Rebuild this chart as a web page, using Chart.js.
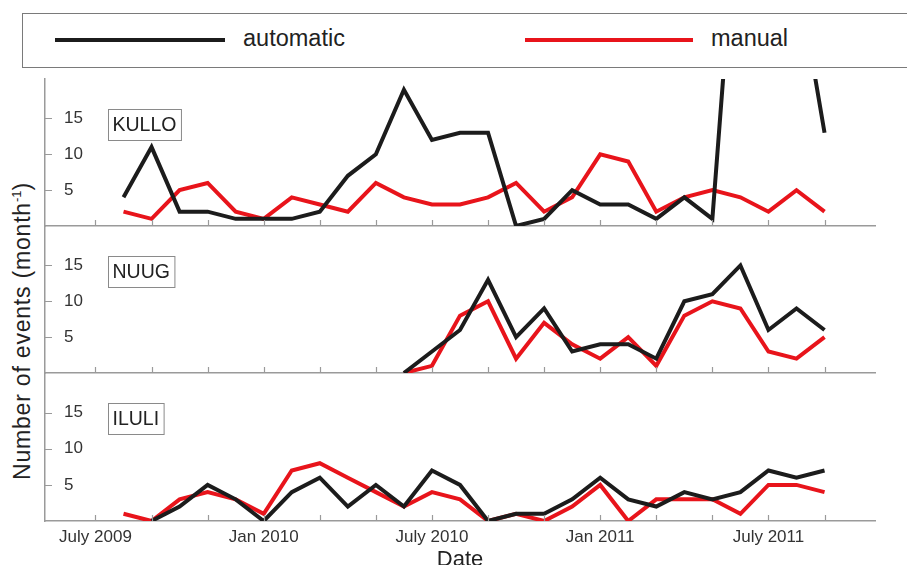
<!DOCTYPE html>
<html lang="en">
<head>
<meta charset="UTF-8">
<title>Automatic vs manual events per month</title>
<script src="https://cdn.jsdelivr.net/npm/chart.js"></script>
<style>
  body { margin: 0; background: #fff; font-family: "Liberation Sans", Arial, sans-serif; color: #222; }
  .wrap { position: relative; width: 907px; height: 565px; overflow: hidden; }
  .wrap canvas { position: absolute; left: 0; }
  .legend { position: absolute; left: 22px; top: 13px; width: 900px; height: 53px; border: 1.5px solid #7a7a7a; border-right: none; }
  .key { position: absolute; height: 4px; top: 24px; }
  .key-text { position: absolute; top: 10px; font-size: 23.5px; line-height: 28px; }
  .ytitle { position: absolute; left: 22px; top: 331px; transform: translate(-50%, -50%) rotate(-90deg);
            white-space: nowrap; font-size: 23px; letter-spacing: 0.8px; }
  .ytitle sup { font-size: 13px; letter-spacing: 0; }
</style>
</head>
<body>
<div class="wrap">
  <div class="legend">
    <div class="key" style="left:32px; width:170px; background:#1c1c1c"></div>
    <div class="key-text" style="left:220px">automatic</div>
    <div class="key" style="left:502px; width:168px; background:#e8141b"></div>
    <div class="key-text" style="left:688px">manual</div>
  </div>
  <div class="ytitle">Number of events (month<sup>-1</sup>)</div>
  <canvas id="kullo" width="907" height="160" style="top:70px"></canvas>
  <canvas id="nuug" width="907" height="160" style="top:220px"></canvas>
  <canvas id="iluli" width="907" height="198" style="top:367px"></canvas>
</div>

<script>
// months Aug 2009 .. Sep 2011
const months = ['2009-08','2009-09','2009-10','2009-11','2009-12',
                '2010-01','2010-02','2010-03','2010-04','2010-05','2010-06','2010-07','2010-08','2010-09','2010-10','2010-11','2010-12',
                '2011-01','2011-02','2011-03','2011-04','2011-05','2011-06','2011-07','2011-08','2011-09'];

// KULLO automatic goes off the top in summer 2011
const kulloAuto   = [4, 11, 2, 2, 1, 1, 1, 2, 7, 10, 19, 12, 13, 13, 0, 1, 5, 3, 3, 1, 4, 1, 52, 45, 36, 13];
const kulloManual = [2, 1, 5, 6, 2, 1, 4, 3, 2, 6, 4, 3, 3, 4, 6, 2, 4, 10, 9, 2, 4, 5, 4, 2, 5, 2];

const nuugAuto   = [null, null, null, null, null, null, null, null, null, null, 0, 3, 6, 13, 5, 9, 3, 4, 4, 2, 10, 11, 15, 6, 9, 6];
const nuugManual = [null, null, null, null, null, null, null, null, null, null, 0, 1, 8, 10, 2, 7, 4, 2, 5, 1, 8, 10, 9, 3, 2, 5];

const iluliAuto   = [null, 0, 2, 5, 3, 0, 4, 6, 2, 5, 2, 7, 5, 0, 1, 1, 3, 6, 3, 2, 4, 3, 4, 7, 6, 7];
const iluliManual = [1, 0, 3, 4, 3, 1, 7, 8, 6, 4, 2, 4, 3, 0, 1, 0, 2, 5, 0, 3, 3, 3, 1, 5, 5, 4];

// tick marks every two months, labels every six
const tickMonths  = ['2009-07','2009-09','2009-11','2010-01','2010-03','2010-05','2010-07','2010-09','2010-11','2011-01','2011-03','2011-05','2011-07','2011-09'];
const labelMonths = ['2009-07','2010-01','2010-07','2011-01','2011-07'];
const labelText   = ['July 2009','Jan 2010','July 2010','Jan 2011','July 2011'];
const yTicks = [5, 10, 15];

const FONT = '"Liberation Sans", Arial, sans-serif';
const AXIS_GREY = '#9a9a9a';

// month offset from July 2009, used as x value
function monthPos(m) {
    const [yr, mo] = m.split('-').map(Number);
    return (yr - 2009) * 12 + (mo - 7);
}

function toPoints(values) {
    return months.map((m, i) => ({ x: monthPos(m), y: values[i] }));
}

// ticks pointing into the plot + the station name box
const panelDecor = {
    id: 'panelDecor',
    afterDraw(chart, args, opts) {
        const { ctx, chartArea: a, scales: { x, y } } = chart;
        ctx.save();
        ctx.strokeStyle = AXIS_GREY;
        ctx.lineWidth = 1.2;
        ctx.beginPath();
        tickMonths.forEach(m => {
            const px = Math.round(x.getPixelForValue(monthPos(m))) + 0.5;
            ctx.moveTo(px, a.bottom);
            ctx.lineTo(px, a.bottom - 6);
        });
        yTicks.forEach(v => {
            const py = Math.round(y.getPixelForValue(v)) + 0.5;
            ctx.moveTo(a.left, py);
            ctx.lineTo(a.left + 7, py);
        });
        ctx.stroke();

        ctx.font = '19.5px ' + FONT;
        const w = ctx.measureText(opts.station).width;
        const bx = a.left + 63, by = a.top + 30, bw = w + 9, bh = 31;
        ctx.strokeStyle = '#8a8a8a';
        ctx.lineWidth = 1;
        ctx.strokeRect(bx + 0.5, by + 0.5, bw, bh);
        ctx.fillStyle = '#222';
        ctx.textBaseline = 'middle';
        ctx.fillText(opts.station, bx + 4.5, by + bh / 2 + 1.5);
        ctx.restore();
    }
};

function makePanel(id, station, auto, manual, bottom, padTop, padBottom) {
    const xScale = {
        type: 'linear',
        min: -1.8,
        max: 27.8,
        grid: { display: false, drawTicks: false },
        border: { display: true, color: AXIS_GREY, width: 1.5 },
        afterBuildTicks: axis => { axis.ticks = tickMonths.map(m => ({ value: monthPos(m) })); },
        afterFit: s => {
            s.height = bottom ? 44 : 0;
            s.paddingLeft = 0; s.paddingRight = 0; s.paddingTop = 0; s.paddingBottom = 0;
        },
        ticks: {
            display: bottom,
            autoSkip: false,
            maxRotation: 0,
            padding: 6,
            color: '#333',
            font: { family: FONT, size: 17 },
            callback: v => {
                const k = labelMonths.findIndex(m => monthPos(m) === v);
                return k >= 0 ? labelText[k] : '';
            }
        },
        title: {
            display: bottom,
            text: 'Date',
            color: '#222',
            padding: 0,
            font: { family: FONT, size: 22, lineHeight: 0.45 }
        }
    };

    return new Chart(document.getElementById(id), {
        type: 'line',
        data: {
            datasets: [
                { label: 'automatic', data: toPoints(auto), borderColor: '#1c1c1c', borderWidth: 4 },
                { label: 'manual', data: toPoints(manual), borderColor: '#e8141b', borderWidth: 4 }
            ]
        },
        options: {
            responsive: false,
            animation: false,
            events: [],
            layout: { autoPadding: false, padding: { left: 45, right: 32, top: padTop, bottom: padBottom } },
            elements: { point: { radius: 0 }, line: { tension: 0 } },
            spanGaps: false,
            scales: {
                x: xScale,
                y: {
                    min: 0,
                    max: 20.5,
                    grid: { display: false, drawTicks: false },
                    border: { display: true, color: AXIS_GREY, width: 1.5 },
                    afterBuildTicks: axis => { axis.ticks = yTicks.map(v => ({ value: v })); },
                    afterFit: s => {
                        s.width = 0;
                        s.paddingLeft = 0; s.paddingRight = 0; s.paddingTop = 0; s.paddingBottom = 0;
                    },
                    ticks: {
                        mirror: true,
                        padding: 19,
                        color: '#333',
                        font: { family: FONT, size: 17 }
                    }
                }
            },
            plugins: {
                legend: { display: false },
                tooltip: { enabled: false },
                panelDecor: { station: station }
            }
        },
        plugins: [panelDecor]
    });
}

makePanel('kullo', 'KULLO', kulloAuto, kulloManual, false, 9, 4);
makePanel('nuug', 'NUUG', nuugAuto, nuugManual, false, 6, 7);
makePanel('iluli', 'ILULI', iluliAuto, iluliManual, true, 6, 0);
</script>
</body>
</html>
